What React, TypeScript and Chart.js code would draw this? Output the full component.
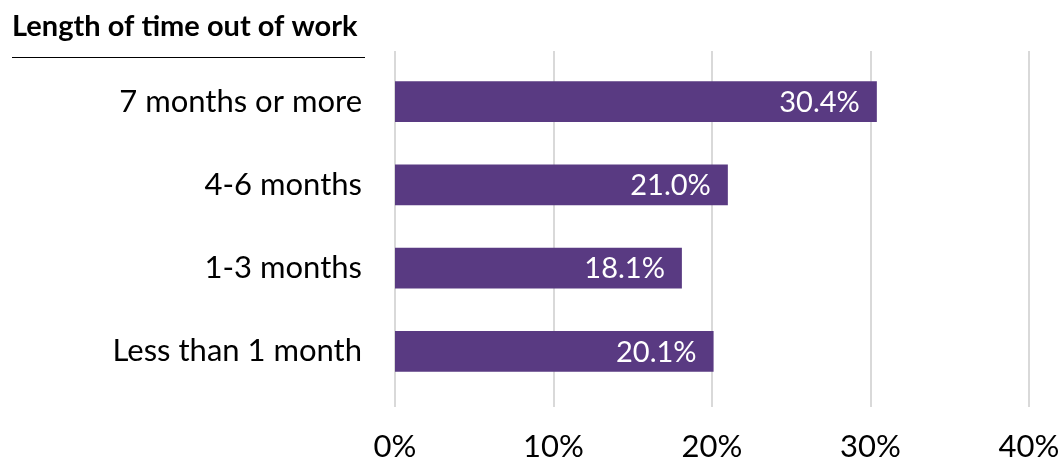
import React, { useEffect, useRef } from "react";
import { Chart, registerables } from "chart.js";

Chart.register(...registerables);

const title = "Length of time out of work";
const categories = ["7 months or more", "4-6 months", "1-3 months", "Less than 1 month"];
const values = [30.4, 21.0, 18.1, 20.1];
const xTicks = [0, 10, 20, 30, 40];

const FONT = "Lato, 'Open Sans', sans-serif";
const BAR_COLOR = "#593A82";
const GRID_COLOR = "#D9D9D9";

export default function App() {
  const ref = useRef<HTMLCanvasElement | null>(null);

  useEffect(() => {
    document.body.style.margin = "0";
    const canvas = ref.current;
    if (!canvas) return;

    const decorPlugin = {
      id: "decor",
      beforeDatasetsDraw(chart: any) {
        const ctx = chart.ctx;
        const xs = chart.scales.x;
        ctx.save();
        ctx.strokeStyle = GRID_COLOR;
        ctx.lineWidth = 2;
        xTicks.forEach((v) => {
          const x = Math.round(xs.getPixelForValue(v));
          ctx.beginPath();
          ctx.moveTo(x, 51);
          ctx.lineTo(x, 407);
          ctx.stroke();
        });
        ctx.restore();
      },
      afterDraw(chart: any) {
        const ctx = chart.ctx;
        ctx.save();
        // title
        ctx.fillStyle = "#000000";
        ctx.font = `bold 29px ${FONT}`;
        ctx.textAlign = "left";
        ctx.textBaseline = "middle";
        ctx.fillText(title, 12, 27);
        ctx.strokeStyle = "#000000";
        ctx.lineWidth = 1;
        ctx.beginPath();
        ctx.moveTo(12, 57.5);
        ctx.lineTo(365, 57.5);
        ctx.stroke();
        // data labels
        const meta = chart.getDatasetMeta(0);
        ctx.fillStyle = "#FFFFFF";
        ctx.font = `29px ${FONT}`;
        ctx.textAlign = "right";
        ctx.textBaseline = "middle";
        meta.data.forEach((bar: any, i: number) => {
          ctx.fillText(values[i].toFixed(1) + "%", bar.x - 17, bar.y + 1);
        });
        ctx.restore();
      },
    };

    const chart = new Chart(canvas, {
      type: "bar",
      data: {
        labels: categories,
        datasets: [
          {
            data: values,
            backgroundColor: BAR_COLOR,
            barPercentage: 0.49,
            categoryPercentage: 1,
          },
        ],
      },
      options: {
        indexAxis: "y",
        animation: false,
        responsive: false,
        maintainAspectRatio: false,
        layout: { padding: { top: 60, right: 32, bottom: 0, left: 0 } },
        plugins: {
          legend: { display: false },
          tooltip: { enabled: false },
          title: { display: false },
        },
        scales: {
          x: {
            min: 0,
            max: 40,
            afterFit(scale: any) {
              scale.height = 71;
              scale.paddingRight = 0;
              scale.paddingLeft = 0;
            },
            afterBuildTicks(scale: any) {
              scale.ticks = xTicks.map((v) => ({ value: v }));
            },
            grid: { display: false, drawTicks: false },
            border: { display: false },
            ticks: {
              padding: 35,
              maxRotation: 0,
              color: "#000000",
              font: { family: FONT, size: 31 },
              callback: (v: any) => `${v}%`,
            },
          },
          y: {
            afterFit(scale: any) {
              scale.width = 395;
            },
            grid: { display: false, drawTicks: false },
            border: { display: false },
            ticks: {
              padding: 33,
              color: "#000000",
              font: { family: FONT, size: 31 },
            },
          },
        },
      },
      plugins: [decorPlugin],
    });

    return () => chart.destroy();
  }, []);

  return (
    <div style={{ position: "absolute", left: 0, top: 0, width: 1061, height: 464 }}>
      <canvas ref={ref} width={1061} height={464} style={{ width: 1061, height: 464 }} />
    </div>
  );
}
